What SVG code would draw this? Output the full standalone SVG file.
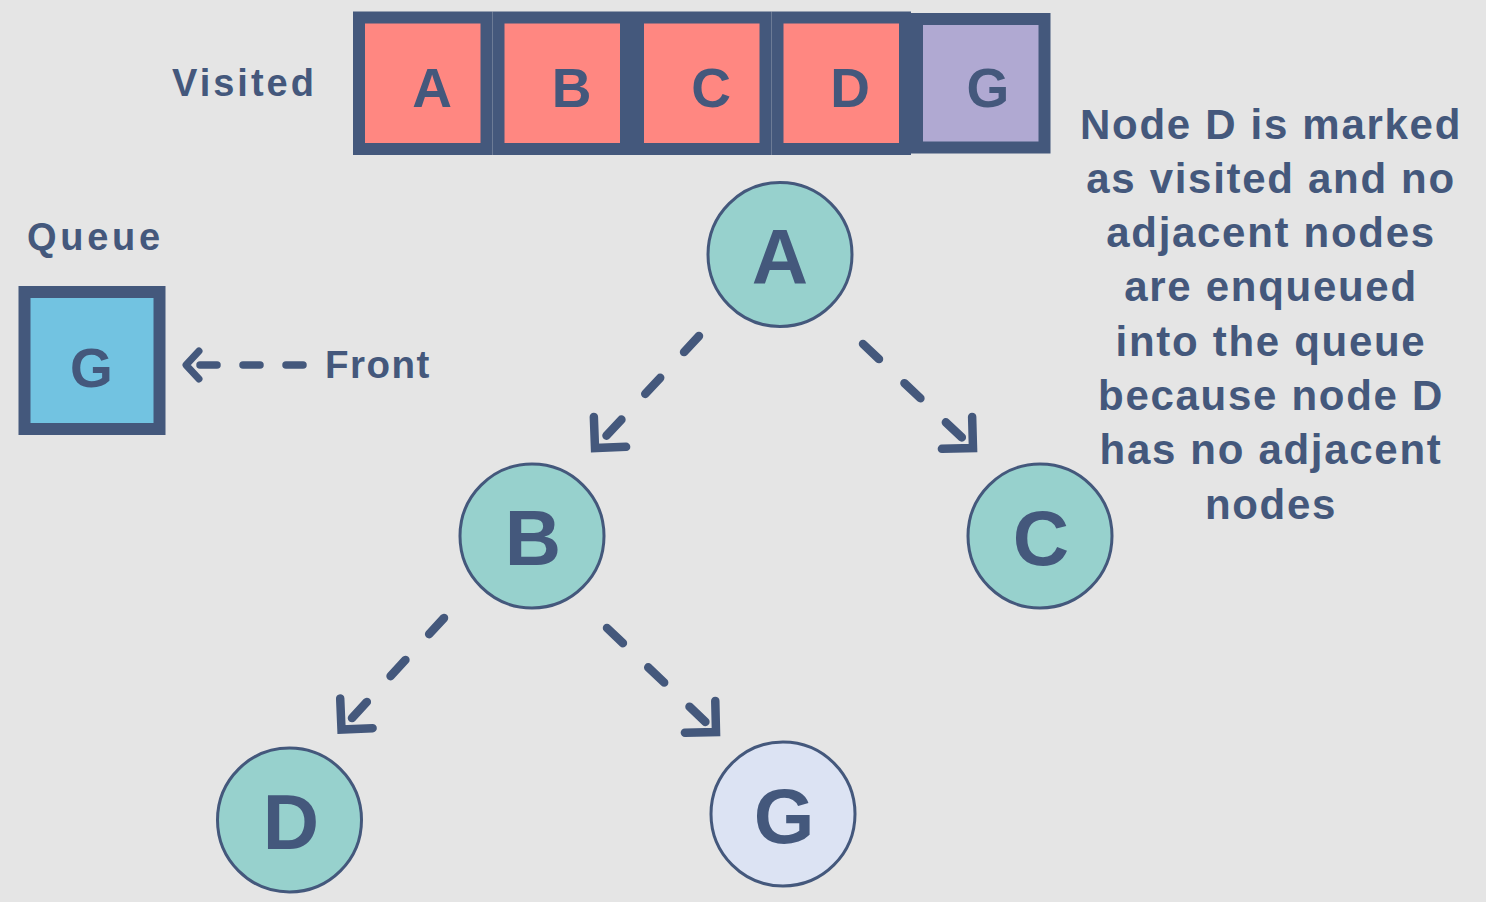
<svg xmlns="http://www.w3.org/2000/svg" width="1486" height="902" viewBox="0 0 1486 902">
<style>
.lbl{font-family:"Liberation Sans",Arial,sans-serif;font-weight:bold;fill:#44587c}
.cell{stroke:#44587c;stroke-width:12;stroke-linejoin:miter}
.cellt{font-family:"Liberation Sans",Arial,sans-serif;font-weight:bold;font-size:55px;fill:#44587c;text-anchor:middle}
.node{stroke:#44587c;stroke-width:3}
.nodet{font-family:"Liberation Sans",Arial,sans-serif;font-weight:bold;font-size:78px;fill:#44587c;text-anchor:middle}
.edge{fill:none;stroke:#44587c;stroke-width:8.5;stroke-linecap:round;stroke-dasharray:22 35}
.note{font-family:"Liberation Sans",Arial,sans-serif;font-weight:bold;font-size:42px;fill:#44587c;text-anchor:middle;letter-spacing:1.7px}
</style>
<defs>
<marker id="chev" markerUnits="userSpaceOnUse" markerWidth="50" markerHeight="70" viewBox="-40 -35 50 70" refX="0" refY="0" orient="auto">
<path d="M-22,-22 L0,0 L-22,22" fill="none" stroke="#44587c" stroke-width="8.5" stroke-linecap="round" stroke-linejoin="miter"/>
</marker>
<marker id="chevs" markerUnits="userSpaceOnUse" markerWidth="40" markerHeight="60" viewBox="-30 -30 40 60" refX="0" refY="0" orient="auto">
<path d="M-13,-14 L0,0 L-13,14" fill="none" stroke="#44587c" stroke-width="7" stroke-linecap="round" stroke-linejoin="round"/>
</marker>
</defs>
<rect x="0" y="0" width="1486" height="902" fill="#e5e5e5"/>

<g id="visited-label"><text class="lbl" x="172" y="96" font-size="38" letter-spacing="3">Visited</text></g>
<g id="visited">
<g id="v-A"><rect class="cell" x="359" y="17.5" width="127.5" height="131.5" fill="#ff8781"/><text class="cellt" x="432" y="106.5">A</text></g>
<g id="v-B"><rect class="cell" x="498.5" y="17.5" width="127.5" height="131.5" fill="#ff8781"/><text class="cellt" x="571.5" y="106.5">B</text></g>
<g id="v-C"><rect class="cell" x="638" y="17.5" width="127.5" height="131.5" fill="#ff8781"/><text class="cellt" x="711" y="106.5">C</text></g>
<g id="v-D"><rect class="cell" x="777.5" y="17.5" width="127.5" height="131.5" fill="#ff8781"/><text class="cellt" x="850" y="106.5">D</text></g>
<g id="v-G"><rect class="cell" x="917" y="19" width="127.5" height="128.5" fill="#b0a9d2"/><text class="cellt" x="988" y="106.5">G</text></g>
</g>

<g id="queue-label"><text class="lbl" x="27" y="250" font-size="38" letter-spacing="3.7">Queue</text></g>
<g id="queue">
<rect class="cell" x="24.5" y="292" width="135" height="137" fill="#72c3e1"/>
<text class="cellt" x="91.5" y="386.5" font-size="54">G</text>
</g>
<g id="front-label"><text class="lbl" x="325" y="378" font-size="38.5" letter-spacing="1.5">Front</text></g>

<g id="connectors">
<path class="edge" d="M303,365 L186,365" style="stroke-width:7.5;stroke-dasharray:17 26" marker-end="url(#chevs)"/>
<path class="edge" d="M699,336 L595,448" marker-end="url(#chev)"/>
<path class="edge" d="M863,344 L973,448" marker-end="url(#chev)"/>
<path class="edge" d="M444,618 L341.5,729.5" marker-end="url(#chev)"/>
<path class="edge" d="M607,628 L716,732" marker-end="url(#chev)"/>
</g>

<g id="node-A"><circle class="node" cx="780" cy="254.5" r="72" fill="#97d1cd"/><text class="nodet" x="780" y="283.5">A</text></g>
<g id="node-B"><circle class="node" cx="532" cy="536" r="72" fill="#97d1cd"/><text class="nodet" x="533" y="565">B</text></g>
<g id="node-C"><circle class="node" cx="1040" cy="536" r="72" fill="#97d1cd"/><text class="nodet" x="1041" y="565">C</text></g>
<g id="node-D"><circle class="node" cx="289.5" cy="820" r="72" fill="#97d1cd"/><text class="nodet" x="291" y="849">D</text></g>
<g id="node-G"><circle class="node" cx="783" cy="814" r="72" fill="#dce3f3"/><text class="nodet" x="784" y="843">G</text></g>

<g id="note">
<text class="note" x="1271" y="138.5">Node D is marked</text>
<text class="note" x="1271" y="192.8">as visited and no</text>
<text class="note" x="1271" y="247.1">adjacent nodes</text>
<text class="note" x="1271" y="301.4">are enqueued</text>
<text class="note" x="1271" y="355.7">into the queue</text>
<text class="note" x="1271" y="410">because node D</text>
<text class="note" x="1271" y="464.3">has no adjacent</text>
<text class="note" x="1271" y="518.6">nodes</text>
</g>
</svg>
